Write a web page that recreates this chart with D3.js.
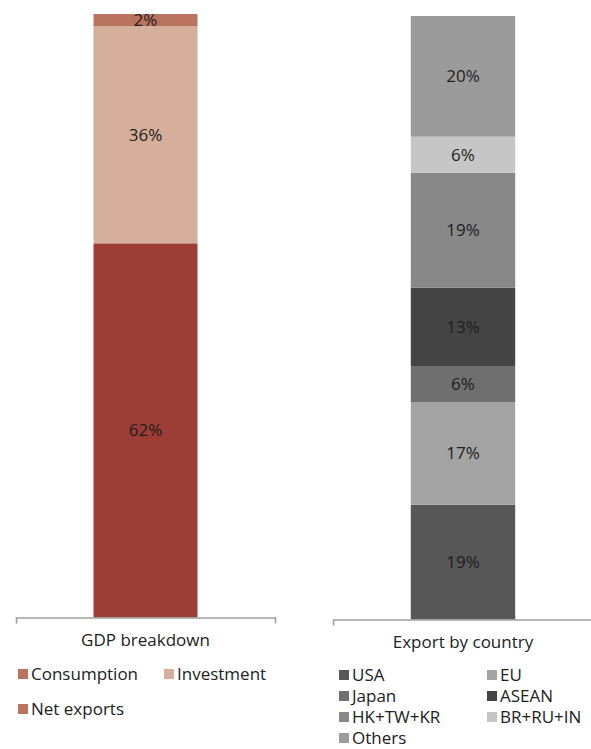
<!DOCTYPE html>
<html><head><meta charset="utf-8">
<script src="https://cdn.jsdelivr.net/npm/d3@7"></script>
<style>body{margin:0;background:#fff}svg{display:block}text{font-family:"Open Sans",sans-serif}</style>
</head><body><svg id="c" width="591" height="749"></svg>
<script>
// Data
const gdpCategories = ["Consumption", "Investment", "Net exports"];
const gdpValues = [62, 36, 2];
const gdpColors = ["#9c3d36", "#d5ae9c", "#b9735e"];
const gdpLegendColors = ["#b9735e", "#d5ae9c", "#b9735e"];
const expCategories = ["USA", "EU", "Japan", "ASEAN", "HK+TW+KR", "BR+RU+IN", "Others"];
const expValues = [19, 17, 6, 13, 19, 6, 20];
const expColors = ["#575757", "#a3a3a3", "#6f6f6f", "#444444", "#888888", "#c6c6c6", "#9b9b9b"];
const panelTitles = ["GDP breakdown", "Export by country"];

const svg = d3.select("#c");
const FS = 17;

function panel(opts) {
  const {title, cats, vals, colors, legendColors, x0, x1, yTop, yBot, legend} = opts;
  const x = d3.scaleBand().domain([title]).range([x0, x1]).paddingInner(0.427).paddingOuter(0.427);
  const y = d3.scaleLinear().domain([0, 100]).range([yBot, yTop]);
  const row = {}; cats.forEach((c, i) => row[c] = vals[i]);
  const series = d3.stack().keys(cats)([row]);
  const g = svg.append("g");
  g.selectAll("rect").data(series).join("rect")
    .attr("x", x(title)).attr("width", x.bandwidth())
    .attr("y", d => y(d[0][1])).attr("height", d => y(d[0][0]) - y(d[0][1]))
    .attr("fill", (d, i) => colors[i]);
  g.selectAll("text.lbl").data(series).join("text").attr("class", "lbl")
    .attr("x", x(title) + x.bandwidth() / 2)
    .attr("y", d => (y(d[0][0]) + y(d[0][1])) / 2)
    .attr("dy", "0.35em").attr("text-anchor", "middle")
    .attr("font-size", FS).attr("fill", "#1e1e1e")
    .text((d, i) => vals[i] + "%");
  const ax = g.append("g").attr("transform", `translate(0,${yBot})`)
    .call(d3.axisBottom(x).tickSizeInner(0).tickSizeOuter(6).tickPadding(16));
  ax.select(".domain").attr("stroke", "#a0a0a0").attr("stroke-width", 1.6);
  ax.selectAll(".tick line").remove();
  ax.selectAll(".tick text").attr("font-size", FS).attr("fill", "#222").attr("font-family", '"Open Sans",sans-serif');
  const lg = g.append("g");
  cats.forEach((c, i) => {
    const p = legend(i);
    lg.append("rect").attr("x", p[0]).attr("y", p[1] - 11).attr("width", 10).attr("height", 10)
      .attr("fill", (legendColors || colors)[i]);
    lg.append("text").attr("x", p[0] + 13).attr("y", p[1]).attr("font-size", FS).attr("fill", "#222").text(c);
  });
}

panel({title: panelTitles[0], cats: gdpCategories, vals: gdpValues, colors: gdpColors, legendColors: gdpLegendColors,
  x0: 16, x1: 275, yTop: 14, yBot: 617.5,
  legend: i => [[18, 680], [164, 680], [18, 715]][i]});
panel({title: panelTitles[1], cats: expCategories, vals: expValues, colors: expColors,
  x0: 333, x1: 593, yTop: 16, yBot: 619.5,
  legend: i => [339 + (i % 2) * 148, 681 + Math.floor(i / 2) * 21]});
</script></body></html>
